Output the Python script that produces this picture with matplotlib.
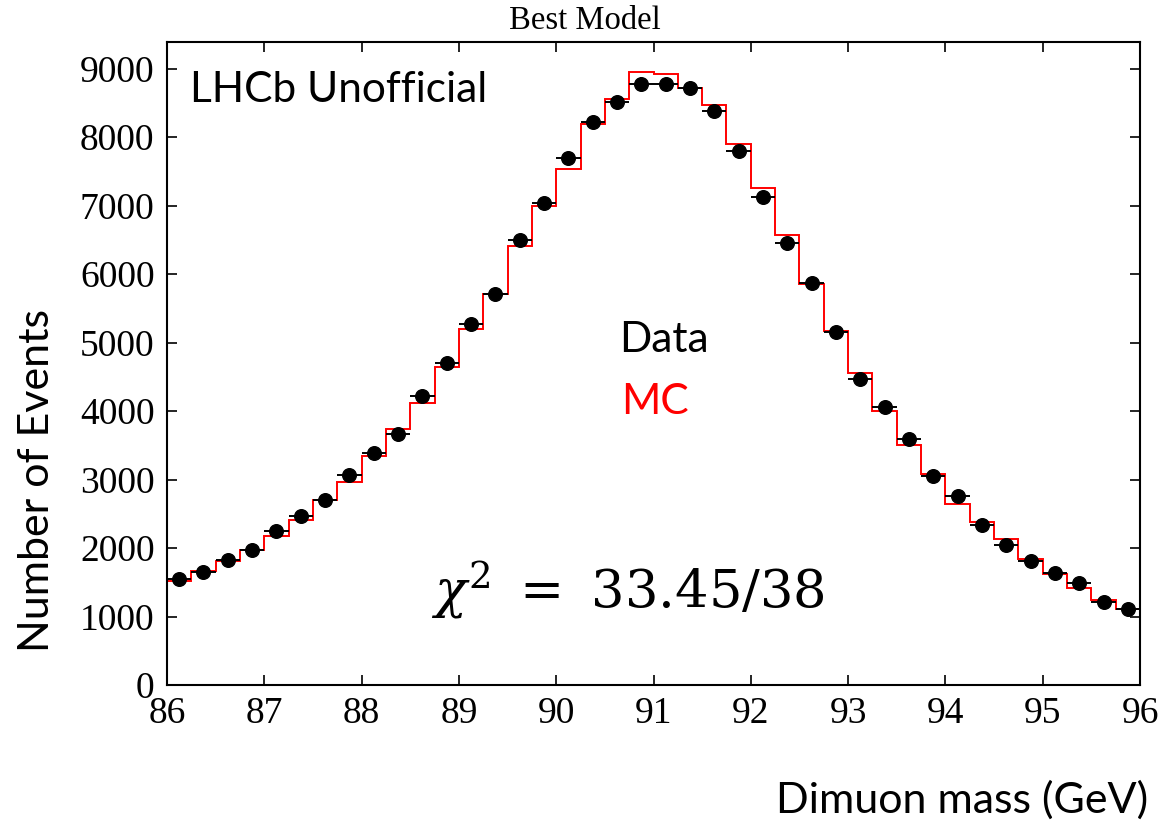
import numpy as np
import matplotlib
matplotlib.use("Agg")
import matplotlib.pyplot as plt

# ---- data ----
bin_edges_lo = 86.0
bin_width = 0.25
n_bins = 40
data_counts = [1545, 1657, 1827, 1973, 2245, 2474, 2708, 3068, 3389, 3668,
               4216, 4702, 5272, 5705, 6504, 7040, 7701, 8216, 8508, 8781,
               8771, 8723, 8381, 7803, 7126, 6460, 5866, 5150, 4474, 4060,
               3588, 3053, 2761, 2337, 2051, 1812, 1642, 1491, 1213, 1107]
mc_counts = [1515, 1666, 1807, 1968, 2172, 2406, 2708, 2965, 3340, 3737,
             4114, 4644, 5199, 5705, 6410, 6990, 7540, 8197, 8562, 8946,
             8921, 8717, 8464, 7905, 7257, 6577, 5855, 5167, 4562, 4001,
             3511, 3077, 2650, 2387, 2133, 1836, 1628, 1423, 1248, 1107]
x_ticks = [86, 87, 88, 89, 90, 91, 92, 93, 94, 95, 96]
y_ticks = [0, 1000, 2000, 3000, 4000, 5000, 6000, 7000, 8000, 9000]

edges = bin_edges_lo + bin_width * np.arange(n_bins + 1)
centers = 0.5 * (edges[:-1] + edges[1:])
data_arr = np.array(data_counts, dtype=float)
mc_arr = np.array(mc_counts, dtype=float)

plt.rcParams["mathtext.fontset"] = "dejavuserif"

W, H = 1162, 821
fig = plt.figure(figsize=(W / 100, H / 100), dpi=100)
ax = fig.add_axes([167 / W, 1 - 685 / H, (1140 - 167) / W, (685 - 42) / H])

sans = ["Lato", "DejaVu Sans"]
serif = ["Liberation Serif", "DejaVu Serif"]

ax.stairs(mc_arr, edges, baseline=None, color="#ff0000", lw=1.4, zorder=2)
ax.errorbar(centers, data_arr, xerr=bin_width / 2, yerr=np.sqrt(data_arr),
            fmt="o", color="black", ms=9.8, elinewidth=1.4, capsize=0, zorder=3)

ax.set_xlim(86, 96)
ax.set_ylim(0, 9390)
ax.set_xticks(x_ticks)
ax.set_yticks(y_ticks)
ax.set_xticklabels([str(t) for t in x_ticks], fontfamily=serif, fontsize=27)
ax.set_yticklabels([str(t) for t in y_ticks], fontfamily=serif, fontsize=27)
ax.tick_params(direction="in", length=7.5, width=1.2, top=True, right=True)
ax.tick_params(axis="x", pad=8)
ax.tick_params(axis="y", pad=9)
for s in ax.spines.values():
    s.set_linewidth(1.5)

fig.text(585 / W, 1 - 21 / H, "Best Model", fontfamily=serif, fontsize=23.5,
         ha="center", va="center")
fig.text(190 / W, 1 - 90 / H, "LHCb Unofficial", fontfamily=sans, fontsize=30.5,
         ha="left", va="center")
fig.text(664 / W, 1 - 340 / H, "Data", fontfamily=sans, fontsize=30.5,
         ha="center", va="center", color="black")
fig.text(655 / W, 1 - 402 / H, "MC", fontfamily=sans, fontsize=30.5,
         ha="center", va="center", color="#ff0000")
fig.text(628 / W, 1 - 590 / H, r"$\chi^{2}\ =\ 33.45/38$", fontsize=38,
         ha="center", va="center")
fig.text(37 / W, 1 - 480 / H, "Number of Events", fontfamily=sans, fontsize=31,
         ha="center", va="center", rotation=90)
fig.text(962 / W, 1 - 800 / H, "Dimuon mass (GeV)", fontfamily=sans, fontsize=31,
         ha="center", va="center")

fig.savefig("out.png", dpi=100)
